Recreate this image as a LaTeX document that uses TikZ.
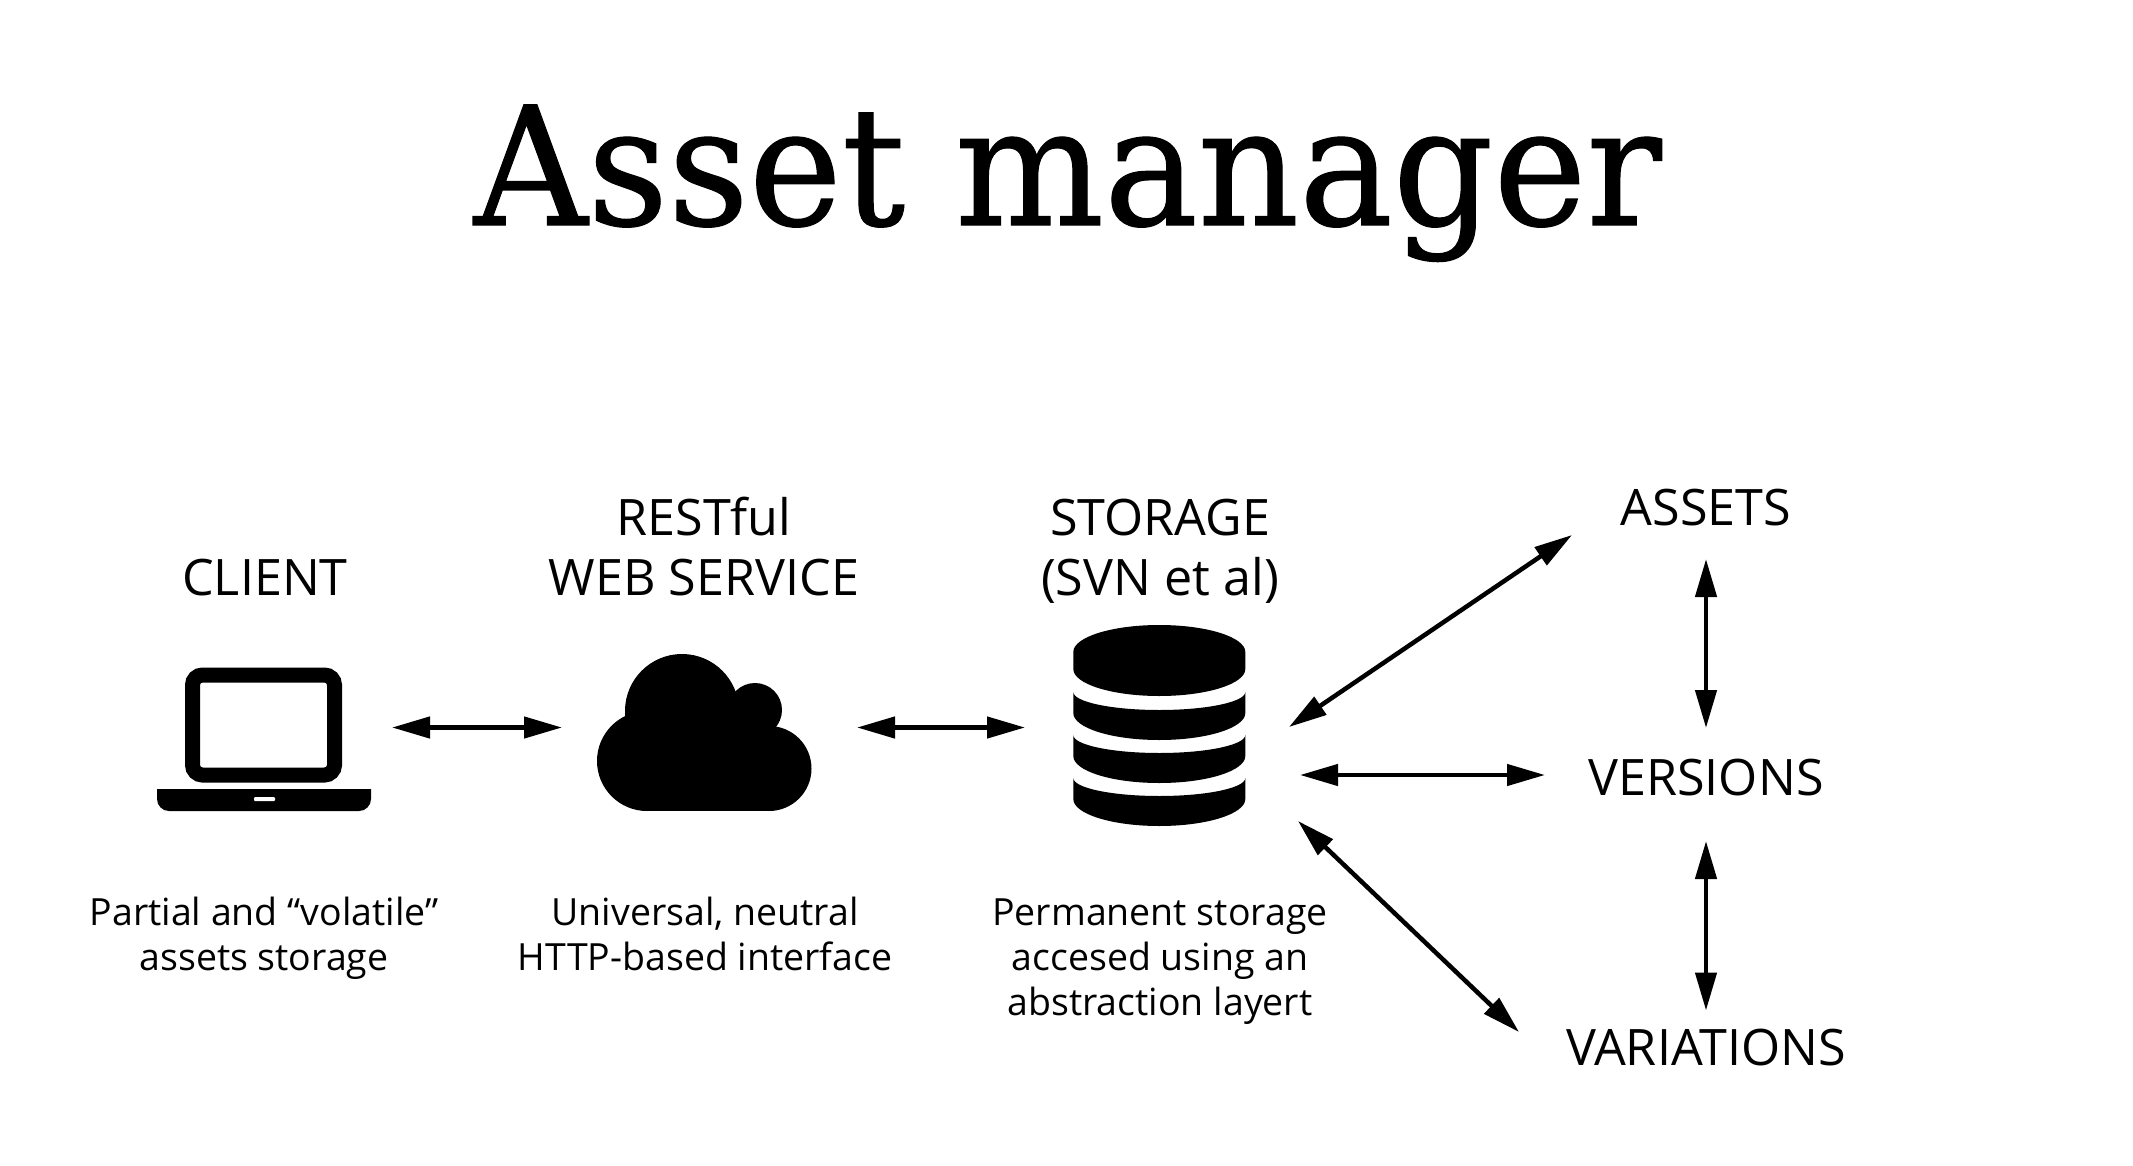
\documentclass[tikz,border=0pt]{standalone}
\usepackage{fontspec}
\setmainfont{Open Sans}
\newfontfamily\titlefont[FakeStretch=0.952,FakeBold=0.7]{DejaVu Serif}
\usetikzlibrary{arrows.meta}
\tikzset{
  headlabel/.style={anchor=base,align=center,inner sep=0pt,font=\fontsize{14.3pt}{17pt}\selectfont},
  desclabel/.style={anchor=base,align=center,inner sep=0pt,font=\fontsize{10.66pt}{12.8pt}\selectfont},
  iconbox/.style={inner sep=0pt,outer sep=0pt,minimum height=.5cm},
  biarrow/.style={{Triangle[length=.38cm,width=.21cm]}-{Triangle[length=.38cm,width=.21cm]},line width=.045cm}
}

\begin{document}
\begin{tikzpicture}
    \useasboundingbox (0,0) rectangle (21.33,11.65);
    \node[anchor=base,inner sep=0pt,font=\titlefont\fontsize{47pt}{50pt}\selectfont] (title) at (10.68,9.40) {Asset manager};

    % column headings
    \node[headlabel] (clienthead) at (2.65,5.70) {CLIENT};
    \node[headlabel] (servicehead) at (7.04,5.70) {RESTful\\WEB SERVICE};
    \node[headlabel] (storagehead) at (11.60,5.70) {STORAGE\\(SVN et al)};

    % column descriptions
    \node[desclabel] (clientdesc) at (2.64,1.95) {Partial and “volatile”\\assets storage};
    \node[desclabel] (servicedesc) at (7.05,1.95) {Universal, neutral\\HTTP-based interface};
    \node[desclabel] (storagedesc) at (11.60,1.50) {Permanent storage\\accesed using an\\abstraction layert};

    \node[headlabel] (assets) at (17.06,6.40) {ASSETS};
    \node[headlabel] (versions) at (17.06,3.70) {VERSIONS};
    \node[headlabel] (variations) at (17.06,1.00) {VARIATIONS};

    % laptop
    \draw[line width=.15cm,rounded corners=.1cm] (1.925,3.90) rectangle (3.345,4.90);
    \fill (1.57,3.76) -- (3.71,3.76) {[rounded corners=.12cm] -- (3.71,3.54) -- (1.57,3.54)} -- cycle;
    \fill[white,rounded corners=.01cm] (2.54,3.64) rectangle (2.75,3.68);

    % cloud
    \fill (6.82,4.54) circle (.57);
    \fill (7.55,4.55) circle (.27);
    \fill (6.47,4.04) circle (.50);
    \fill (7.69,3.965) circle (.425);
    \fill (6.47,3.54) rectangle (7.69,4.5);

    % database
    \fill (10.733,5.13) arc[start angle=180,end angle=0,x radius=.86,y radius=.27]
      -- (12.453,4.96) arc[start angle=0,end angle=-180,x radius=.86,y radius=.27] -- cycle;
    \foreach \i in {0,1,2}
    {
      \fill (10.733,4.73-.43*\i) arc[start angle=180,end angle=360,x radius=.86,y radius=.18]
        -- (12.453,4.52-.43*\i) arc[start angle=0,end angle=-180,x radius=.86,y radius=.27] -- cycle;
    }

    % invisible boxes the arrows stop at
    \node[iconbox,minimum width=2.60cm] (laptop) at (2.62,4.375) {};
    \node[iconbox,minimum width=2.95cm] (cloud) at (7.095,4.375) {};
    \node[iconbox,minimum width=2.686cm] (storage) at (11.593,4.375) {};

    \coordinate (fanassets) at (12.89,4.38);
    \coordinate (fanversions) at (13.00,3.90);
    \coordinate (fanvariations) at (12.98,3.44);
    \coordinate (endassets) at (15.72,6.30);
    \coordinate (endversions) at (15.45,3.90);
    \coordinate (endvariations) at (15.19,1.33);

    \draw[biarrow] (laptop) -- (cloud);
    \draw[biarrow] (cloud) -- (storage);
    \draw[biarrow] (fanassets) -- (endassets);
    \draw[biarrow] (fanversions) -- (endversions);
    \draw[biarrow] (fanvariations) -- (endvariations);
    \draw[biarrow] ([yshift=-.34cm]assets.base) -- ([yshift=.67cm]versions.base);
    \draw[biarrow] ([yshift=-.46cm]versions.base) -- ([yshift=.545cm]variations.base);
\end{tikzpicture}
\end{document}
